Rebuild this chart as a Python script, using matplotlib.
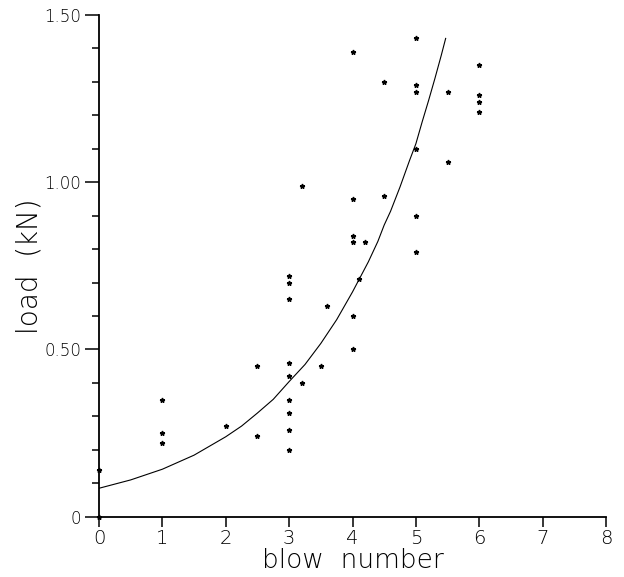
import matplotlib
matplotlib.use("Agg")
import matplotlib.pyplot as plt
from matplotlib.ticker import MultipleLocator, FixedLocator

# Observed data (blow number, load in kN)
blow = [0, 0,
        1, 1, 1,
        2,
        2.5, 2.5,
        3, 3, 3, 3, 3, 3, 3, 3, 3,
        3.2, 3.2, 3.5, 3.6,
        4, 4, 4, 4, 4, 4,
        4.1, 4.2,
        4.5, 4.5,
        5, 5, 5, 5, 5, 5,
        5.5, 5.5,
        6, 6, 6, 6]
load = [0.0, 0.14,
        0.35, 0.25, 0.22,
        0.27,
        0.45, 0.24,
        0.72, 0.70, 0.65, 0.46, 0.42, 0.35, 0.31, 0.26, 0.20,
        0.40, 0.99, 0.45, 0.63,
        1.39, 0.95, 0.84, 0.82, 0.60, 0.50,
        0.71, 0.82,
        1.30, 0.96,
        1.43, 1.29, 1.27, 1.10, 0.90, 0.79,
        1.27, 1.06,
        1.35, 1.26, 1.24, 1.21]

# Fitted curve
curve_x = [0, 0.5, 1, 1.5, 2, 2.25, 2.5, 2.75, 3, 3.25, 3.5, 3.75, 4, 4.25,
           4.4, 4.5, 4.6, 4.75, 4.9, 5, 5.1, 5.2, 5.3, 5.4, 5.47]
curve_y = [0.085, 0.110, 0.142, 0.184, 0.239, 0.271, 0.310, 0.351, 0.404,
           0.455, 0.518, 0.589, 0.672, 0.762, 0.823, 0.872, 0.913, 0.986,
           1.065, 1.115, 1.181, 1.244, 1.310, 1.379, 1.43]

xticks = [0, 1, 2, 3, 4, 5, 6, 7, 8]
yticks = [0, 0.5, 1.0, 1.5]
ytick_labels = ["0", "0.50", "1.00", "1.50"]

plt.rcParams['font.family'] = ['DejaVu Sans']

fig = plt.figure(figsize=(6.24, 5.77), dpi=100)
ax = fig.add_axes([99/624, 1 - 516.7/577, (606 - 99)/624, (516.7 - 15)/577])

ax.plot(curve_x, curve_y, color='black', lw=0.8)
ax.plot(blow, load, linestyle='none', marker='*', ms=3.5, color='black', clip_on=False)

ax.set_xlim(0, 8)
ax.set_ylim(0, 1.5)
ax.xaxis.set_major_locator(FixedLocator(xticks))
ax.yaxis.set_major_locator(FixedLocator(yticks))
ax.yaxis.set_minor_locator(MultipleLocator(0.1))
ax.set_yticklabels(ytick_labels)

for s in ['top', 'right']:
    ax.spines[s].set_visible(False)
for s in ['left', 'bottom']:
    ax.spines[s].set_linewidth(1.3)

ax.tick_params(axis='y', which='major', direction='out', length=10, width=1.1,
               labelsize=12, pad=3, labelcolor='black')
ax.tick_params(axis='y', which='minor', direction='out', length=5, width=1.1)
ax.tick_params(axis='x', which='major', direction='out', length=7, width=1.1,
               labelsize=14, pad=2, labelcolor='black')
for lbl in ax.get_xticklabels() + ax.get_yticklabels():
    lbl.set_fontweight('light')

ax.set_xlabel("blow  number", fontsize=19, labelpad=0, fontweight='light', color='black')
ax.set_ylabel("load  (kN)", fontsize=20, fontweight='light', color='black')
ax.yaxis.set_label_coords(-0.11, 0.5)

fig.savefig("out.png", dpi=100)
